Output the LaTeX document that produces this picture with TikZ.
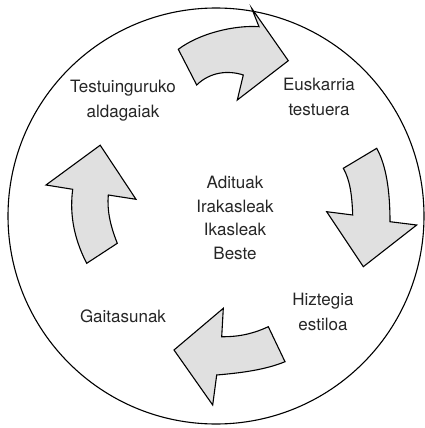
\documentclass[tikz,border=0pt]{standalone}
\usepackage{fontspec}
\setmainfont{TeX Gyre Heros}
\begin{document}
\begin{tikzpicture}[x=1pt,y=-1pt,
  blockarrow/.style={draw=black,line width=1.1pt,line join=miter,fill=black!12},
  label/.style={align=center,text=black!85,font=\fontsize{17}{25}\selectfont,inner sep=0pt},
  mid/.style={label,font=\fontsize{17}{23.5}\selectfont}]
\useasboundingbox (0,0) rectangle (425,428);

% outer cycle
\draw[line width=1.1pt] (216,216) circle[radius=208];

% top arrow (pointing right)
\draw[blockarrow] (288.3,60.7) -- (251.7,8.3) -- (259,26.7)
  .. controls (235,25) and (200,33) .. (178.3,49.3)
  -- (196.7,85)
  .. controls (210,72) and (228,70) .. (243.3,75)
  -- (237.3,100) -- cycle;

% right arrow (pointing down)
\draw[blockarrow] (343.3,168.3) -- (376.7,148.3)
  .. controls (386,165) and (390,190) .. (390,221.7)
  -- (416.7,225) -- (363.3,266.7) -- (326.7,211.7) -- (352.7,215)
  .. controls (352,195) and (350,180) .. cycle;

% bottom arrow (pointing left)
\draw[blockarrow] (174,350) -- (223.3,308.3) -- (221.7,336.7)
  .. controls (240,337) and (255,333) .. (268.3,326.7)
  -- (285,361.7)
  .. controls (265,370) and (240,373) .. (216.7,375)
  -- (212.7,405) -- cycle;

% left arrow (pointing up)
\draw[blockarrow] (100.2,145.2) -- (46,185) -- (72.7,189.3)
  .. controls (70,210) and (72,235) .. (86.7,263.3)
  -- (117.3,243.3)
  .. controls (110,225) and (107,210) .. (108.3,195)
  -- (136,199.3) -- cycle;

% labels
\node[label] (ctx) at (123,101) {Testuinguruko\\aldagaiak};
\node[label] (medium) at (319,97) {Euskarria\\testuera};
\node[label] (style) at (323,312) {Hiztegia\\estiloa};
\node[label] (skills) at (123,316) {Gaitasunak};
\node[mid] (readers) at (235,218) {Adituak\\Irakasleak\\Ikasleak\\Beste};
\end{tikzpicture}
\end{document}
